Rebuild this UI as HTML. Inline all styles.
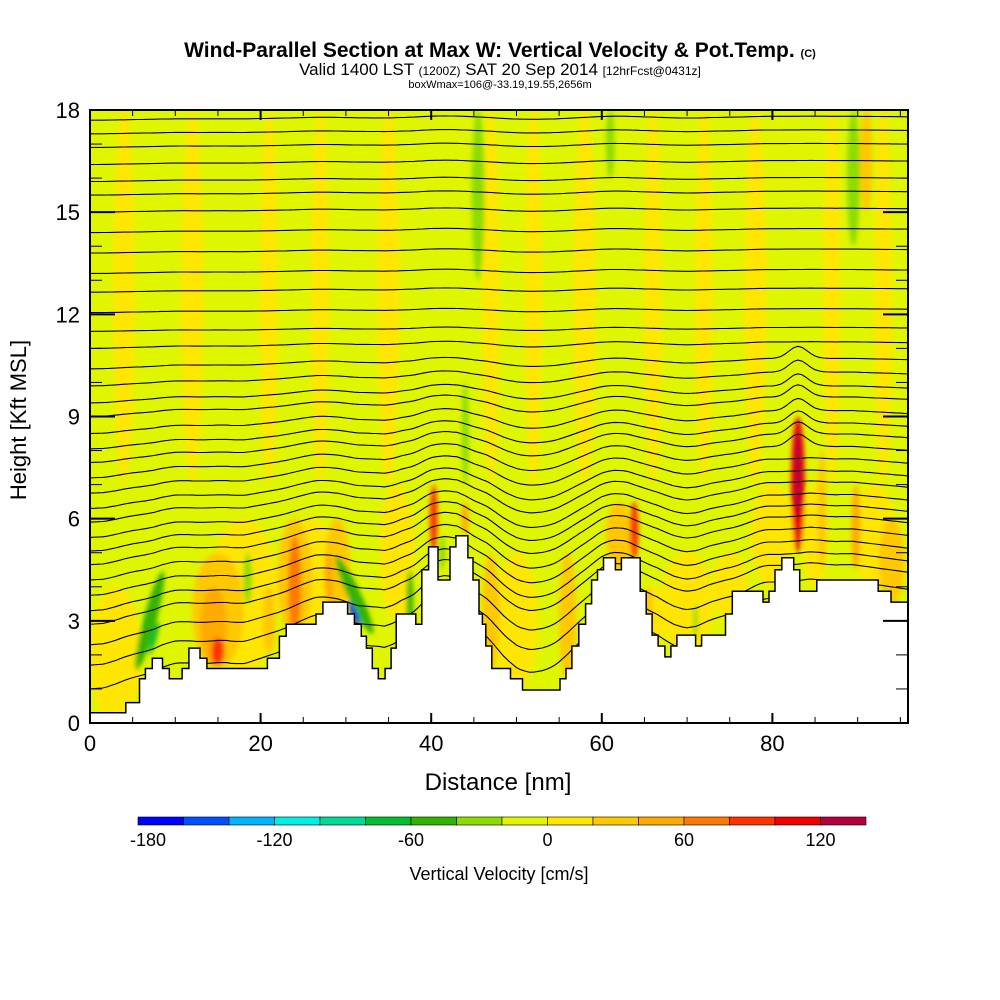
<!DOCTYPE html>
<html><head><meta charset="utf-8"><style>
html,body{margin:0;padding:0;background:#fff;}
svg{display:block;font-family:"Liberation Sans",Arial,sans-serif;}
</style></head><body>
<svg id="chart" width="1000" height="1000" viewBox="0 0 1000 1000">
<defs>
<clipPath id="plotClip"><rect x="90" y="110" width="818" height="613"/></clipPath>
<filter id="blur" x="-50%" y="-50%" width="200%" height="200%"><feGaussianBlur stdDeviation="2.5"/></filter>
</defs>
<g>
<text x="500" y="57" text-anchor="middle" font-size="21" font-weight="bold">Wind-Parallel Section at Max W: Vertical Velocity &amp; Pot.Temp. <tspan font-size="11">(C)</tspan></text>
<text x="500" y="75" text-anchor="middle" font-size="17">Valid 1400 LST <tspan font-size="12">(1200Z)</tspan> SAT 20 Sep 2014 <tspan font-size="12">[12hrFcst@0431z]</tspan></text>
<text x="500" y="88" text-anchor="middle" font-size="11">boxWmax=106@-33.19,19.55,2656m</text>
</g>
<rect x="90" y="110" width="818" height="613" fill="#e0f500"/>
<g id="field" clip-path="url(#plotClip)"><g id="plumes" filter="url(#blur)"></g></g>
<g id="contours" clip-path="url(#plotClip)"></g>
<g id="terrain" clip-path="url(#plotClip)"></g>
<g id="axes"></g>
<g id="colorbar"></g>
<text x="26" y="420" text-anchor="middle" font-size="22" transform="rotate(-90 26 420)">Height [Kft MSL]</text>
<text x="498" y="790" text-anchor="middle" font-size="24">Distance [nm]</text>
<text x="499" y="880" text-anchor="middle" font-size="18">Vertical Velocity [cm/s]</text>
</svg>
<script>
// ---- data ----
const terrainDist = [0,4.2,5.8,6.5,7.3,8.5,9.3,10.8,11.6,12.9,13.7,20.8,22.2,23,26.5,27.3,30.2,31,31.8,32.4,33.1,33.8,34.6,35.3,35.9,38.2,38.9,39.7,40.8,42.2,42.9,44.3,44.9,45.6,46,46.4,47.1,49.3,50.7,55.1,55.8,56.5,57.3,58.1,58.8,59.5,60.2,61.6,62.3,64.5,65.2,65.9,66.6,67.4,68.1,68.8,71,71.7,74.5,75.3,78.9,79.6,80.3,81.1,82.5,83.2,85.2,92.4,93.9];
const terrainHeight = [0.3,0.6,1.3,1.6,1.9,1.6,1.3,1.6,2.2,1.9,1.6,1.9,2.55,2.9,3.2,3.55,3.2,2.9,2.55,2.2,1.6,1.3,1.6,2.2,3.2,2.9,4.5,5.17,4.2,5.17,5.5,4.85,4.2,3.2,2.9,2.26,1.6,1.3,0.97,1.3,1.6,2.26,2.9,3.5,4.2,4.5,4.85,4.5,4.85,3.87,3.2,2.58,2.26,1.94,2.26,2.58,2.26,2.58,3.2,3.87,3.55,3.87,4.5,4.85,4.5,3.87,4.2,3.87,3.55];
const thetaBase = [17.7,17.3,16.9,16.4,15.9,15.5,15.0,14.4,13.8,13.2,12.65,12.05,11.5,11.0,10.4,9.9,9.4,9.0,8.5,8.05,7.65,7.2,6.75,6.3,5.9,5.45,5.05,4.65,4.2,3.75,3.3,2.9,2.3,1.7,1.0];
const plumeX      = [3,18,26,36,50,70,80,92,15,24,29,47,56,62,66,75,85,94, 4,12,21,27,35,47,52,58,66,72,78,87,93, 14.5,15,24,28,21,40.3,44,63.8,83,83,85.8,89.8,93.5,47,56.3,65.5,91, 7,7.5,18.5,31,31,37.5,41.3,44,45.5,43,61,89.5,71];
const plumeBottom = [0,1.5,2,3,1,2,4,4,1.6,2.5,3,1.5,1.2,4.5,2.2,3,4,3.5, 7,7,7,7,7,7,7,7,7,7,7,7,7, 1.7,1.7,2.5,3.5,2,5,5.5,4.8,5,6,4.5,4.5,3.6,1.6,1.5,2.5,15, 1.5,2,3.5,2.5,2.8,2.5,4.5,7,13,12,16,14,2.5];
const plumeTop    = [4,6,6,7,5,5,7,7,5,6,6,5,5,6.5,4,5,7,6, 18,18,18,18,18,18,18,18,18,18,18,18,18, 4,2.5,5.5,5,4,7,6.5,6.5,9,8.5,8,7,4.8,4,4,4,18, 4.5,3,5,5,3.6,4.5,5.5,10,18,16,18,18,3.5];
const plumeWidth  = [6,8,6,4,5,6,5,5,6,4,3,2,2,3,3,4,3,3, 2.5,2.5,2,2,2.5,2,2,2.5,2,2,2.5,2,2, 3,1.5,1.5,1,1.5,0.9,0.8,1,1.6,0.7,1,1,1.5,1,1,1,1.5, 1.5,0.6,1,1.5,0.6,0.8,0.7,0.8,1.5,0.6,1,1.5,0.5];
const plumeValue  = [10,10,10,10,10,10,10,10,30,30,30,30,30,30,10,10,10,30, 10,10,10,10,10,10,10,10,10,10,10,10,10, 50,90,60,40,30,90,50,80,110,130,30,40,30,30,30,30,30, -50,-80,-25,-60,-170,-60,-25,-25,-30,-20,-25,-30,-25];
const plumeTilt   = [0,0,0,0,0,0,0,0,0,0,0,0,0,0,0,0,0,0, 0,0,0,0,0,0,0,0,0,0,0,0,0, 0,0,0,0,0,0,0,0,0,0,0,0,0,0,0,0,0, 15,15,0,-25,-25,0,0,0,0,0,0,0,0];
const cbEdges = [-180,-160,-140,-120,-100,-80,-60,-40,-20,0,20,40,60,80,100,120,140];
const cbColors = ["#0000ff","#0050ff","#00b4ff","#00f0e6","#00dc96","#00c030","#30b400","#8cdc00","#e0f500","#ffe600","#ffc800","#ffaa00","#ff7800","#ff3200","#f00000","#b4003c"];
const cbTickLabels = [-180,-120,-60,0,60,120];
const xTicks = [0,20,40,60,80];
const yTicks = [0,3,6,9,12,15,18];

const NS="http://www.w3.org/2000/svg";
const X = d => 90 + d*8.53;
const Y = h => 723 - h*34.0556;
function mk(tag, attrs, parent){const e=document.createElementNS(NS,tag);for(const k in attrs)e.setAttribute(k,attrs[k]);parent.appendChild(e);return e;}
function colorFor(v){for(let i=0;i<cbColors.length;i++){if(v<cbEdges[i+1])return cbColors[i];}return cbColors[cbColors.length-1];}
function terrainAt(d){let h=terrainHeight[0];for(let i=0;i<terrainDist.length;i++){if(d>=terrainDist[i])h=terrainHeight[i];}return h;}

// plumes
const pg=document.getElementById('plumes');
for(let i=0;i<plumeX.length;i++){
  const cx=X(plumeX[i]), cy=(Y(plumeBottom[i])+Y(plumeTop[i]))/2;
  const e=mk('ellipse',{cx:cx,cy:cy,rx:plumeWidth[i]*8.53/2,ry:(Y(plumeBottom[i])-Y(plumeTop[i]))/2,fill:colorFor(plumeValue[i]),transform:`rotate(${plumeTilt[i]} ${cx} ${cy})`},pg);
  
  
}

// contours
const cg=document.getElementById('contours');
function smoothT(d){let s=0,n=0;for(let t=d-4;t<=d+4;t+=0.5){s+=terrainAt(Math.max(0,Math.min(96,t)));n++;}return s/n;}
const s0=smoothT(0);
thetaBase.forEach(b=>{
  const amp = Math.max(0.03, 0.6-0.05*b);
  let dstr='';
  for(let d=0; d<=96; d+=0.5){
    let h=b+amp*(smoothT(d)-s0);
    if(b>7 && b<10.5) h+=0.35*Math.exp(-Math.pow((d-83)/1.5,2));
    dstr+=(d===0?'M':'L')+X(d).toFixed(1)+','+Y(h).toFixed(1);
  }
  const p=mk('path',{d:dstr,fill:'none',stroke:'#000','stroke-width':1.1},cg);
  
  
});

// terrain
const tg=document.getElementById('terrain');
let td='M'+X(0)+','+Y(-1);
for(let i=0;i<terrainDist.length;i++){
  const x0=X(terrainDist[i]), x1=X(i+1<terrainDist.length?terrainDist[i+1]:97), y=Y(terrainHeight[i]);
  td+=' L'+x0.toFixed(1)+','+y.toFixed(1)+' L'+x1.toFixed(1)+','+y.toFixed(1);
}
td+=' L'+X(97)+','+Y(-1)+' Z';
const tp=mk('path',{d:td,fill:'#fff',stroke:'#000','stroke-width':1.5},tg);



// axes
const ag=document.getElementById('axes');
for(let d=0; d<=95; d+=5){
  const major=xTicks.includes(d), L=major?10:6;
  mk('line',{x1:X(d),x2:X(d),y1:723,y2:723-L,stroke:'#000','stroke-width':major?2:1},ag);
  mk('line',{x1:X(d),x2:X(d),y1:110,y2:110+L,stroke:'#000','stroke-width':major?2:1},ag);
}
for(let h=0; h<=18; h+=1){
  const major=yTicks.includes(h), L=major?25:12;
  mk('line',{x1:90,x2:90+L,y1:Y(h),y2:Y(h),stroke:'#000','stroke-width':major?2:1},ag);
  mk('line',{x1:908,x2:908-L,y1:Y(h),y2:Y(h),stroke:'#000','stroke-width':major?2:1},ag);
}
const frame=mk('rect',{x:90,y:110,width:818,height:613,fill:'none',stroke:'#000','stroke-width':2},ag);


xTicks.forEach(d=>{
  const t=mk('text',{x:X(d),y:751,'text-anchor':'middle','font-size':22},ag);t.textContent=d;
  
  
});
yTicks.forEach(h=>{
  const t=mk('text',{x:80,y:Y(h)+8,'text-anchor':'end','font-size':22},ag);t.textContent=h;
  
  
});

// colorbar
const cbg=document.getElementById('colorbar');
const CX=v=>138+(v+180)*(866-138)/320;
for(let i=0;i<cbColors.length;i++){
  const r=mk('rect',{x:CX(cbEdges[i]),y:817,width:CX(cbEdges[i+1])-CX(cbEdges[i]),height:8,fill:cbColors[i],stroke:'#000','stroke-width':0.6},cbg);
  
  
}
cbTickLabels.forEach(v=>{
  const t=mk('text',{x:CX(v)+(v===-180?10:0),y:846,'text-anchor':'middle','font-size':18},cbg);t.textContent=v;
  
  
});
</script>
</body></html>
